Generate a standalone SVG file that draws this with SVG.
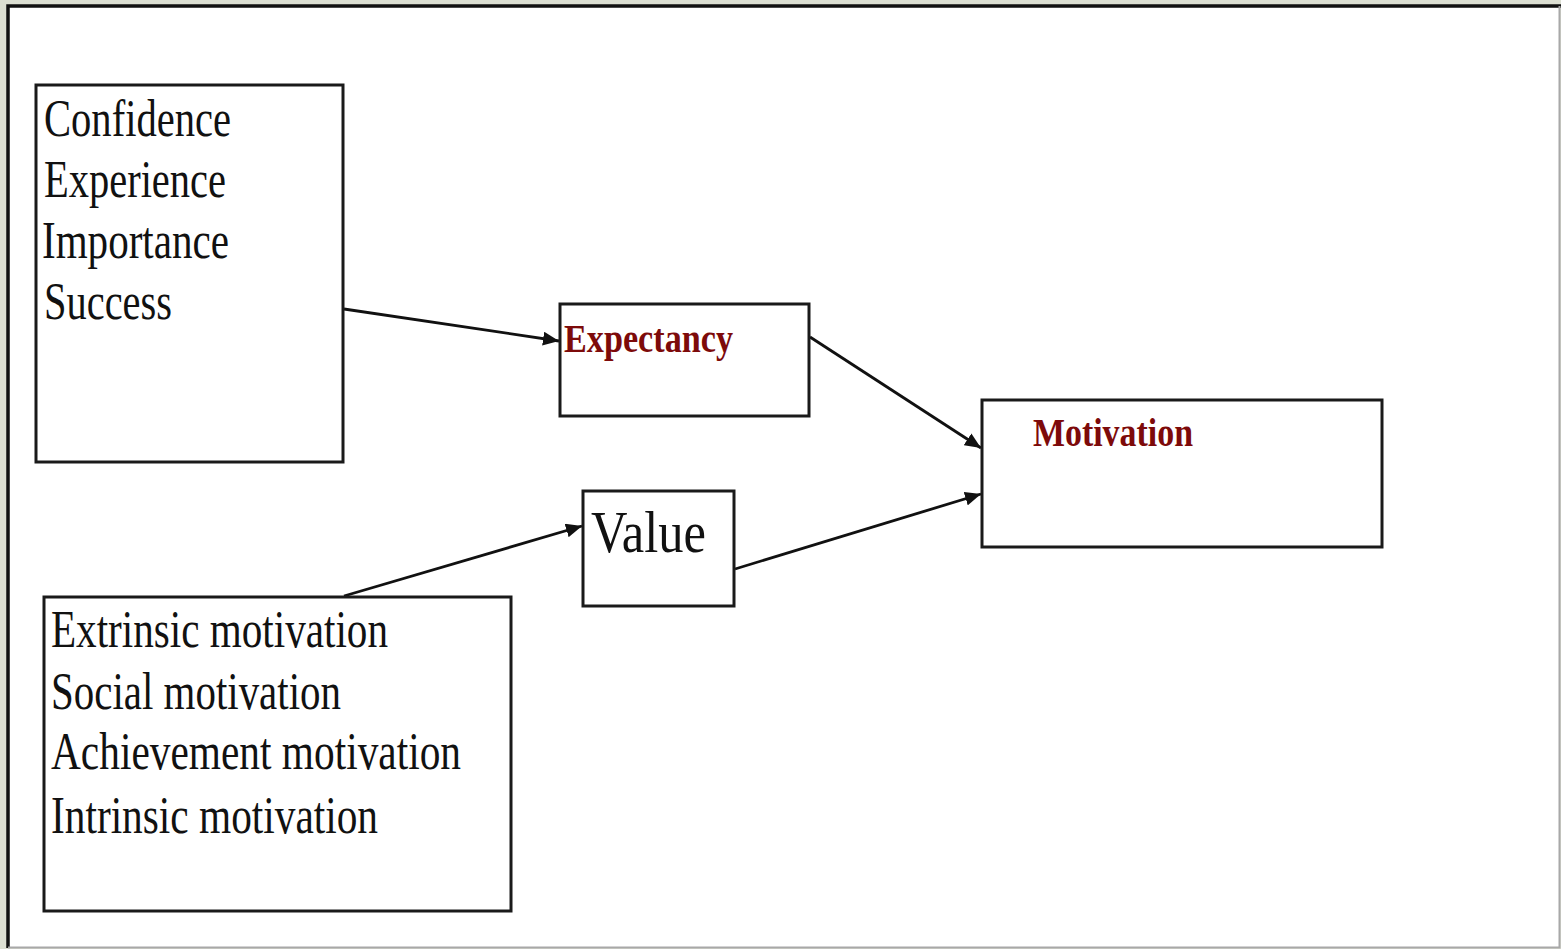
<svg xmlns="http://www.w3.org/2000/svg" width="1561" height="949" viewBox="0 0 1561 949">
  <style>
    .box { fill: #ffffff; stroke: #1a1a1a; stroke-width: 3; }
    .item { font-family: "Liberation Serif", "Times New Roman", serif; font-size: 52px; fill: #111111; }
    .key { font-family: "Liberation Serif", "Times New Roman", serif; font-size: 40px; font-weight: bold; fill: #7d0a0a; }
    .big { font-family: "Liberation Serif", "Times New Roman", serif; font-size: 60px; fill: #111111; }
    .link { stroke: #111111; stroke-width: 2.8; fill: none; marker-end: url(#head); }
  </style>
  <defs>
    <marker id="head" markerUnits="userSpaceOnUse" markerWidth="18" markerHeight="14" refX="16" refY="7" orient="auto">
      <path d="M0,0 L16,7 L0,14 Z" fill="#111111"/>
    </marker>
  </defs>

  <!-- page backdrop and frame -->
  <rect x="0" y="0" width="1561" height="949" fill="#dcdfd2"/>
  <rect x="8" y="6" width="1552" height="942" fill="#ffffff"/>
  <path d="M8,948 L8,6 L1561,6" stroke="#111111" stroke-width="3.5" fill="none"/>
  <path d="M1559.5,6 L1559.5,947.5 L8,947.5" stroke="#a8a8a8" stroke-width="2" fill="none"/>

  <!-- connectors -->
  <g id="connectors">
    <line class="link" x1="344" y1="309" x2="559" y2="341"/>
    <line class="link" x1="344" y1="596" x2="582" y2="526"/>
    <line class="link" x1="810" y1="337" x2="981" y2="448"/>
    <line class="link" x1="735" y1="569" x2="981" y2="494"/>
  </g>

  <g id="expectancy-factors">
    <rect class="box" x="36" y="85" width="307" height="377"/>
    <text class="item" x="44" y="136" textLength="187" lengthAdjust="spacingAndGlyphs">Confidence</text>
    <text class="item" x="44" y="197" textLength="182" lengthAdjust="spacingAndGlyphs">Experience</text>
    <text class="item" x="42" y="258" textLength="187" lengthAdjust="spacingAndGlyphs">Importance</text>
    <text class="item" x="44" y="319" textLength="128" lengthAdjust="spacingAndGlyphs">Success</text>
  </g>

  <g id="value-factors">
    <rect class="box" x="44" y="597" width="467" height="314"/>
    <text class="item" x="51" y="647" textLength="337" lengthAdjust="spacingAndGlyphs">Extrinsic motivation</text>
    <text class="item" x="51" y="709" textLength="290" lengthAdjust="spacingAndGlyphs">Social motivation</text>
    <text class="item" x="51" y="769" textLength="410" lengthAdjust="spacingAndGlyphs">Achievement motivation</text>
    <text class="item" x="51" y="833" textLength="327" lengthAdjust="spacingAndGlyphs">Intrinsic motivation</text>
  </g>

  <g id="expectancy">
    <rect class="box" x="560" y="304" width="249" height="112"/>
    <text class="key" x="564" y="352" textLength="169" lengthAdjust="spacingAndGlyphs">Expectancy</text>
  </g>

  <g id="value">
    <rect class="box" x="583" y="491" width="151" height="115"/>
    <text class="big" x="591" y="552" textLength="115" lengthAdjust="spacingAndGlyphs">Value</text>
  </g>

  <g id="motivation">
    <rect class="box" x="982" y="400" width="400" height="147"/>
    <text class="key" x="1033" y="446" textLength="160" lengthAdjust="spacingAndGlyphs">Motivation</text>
  </g>
</svg>
